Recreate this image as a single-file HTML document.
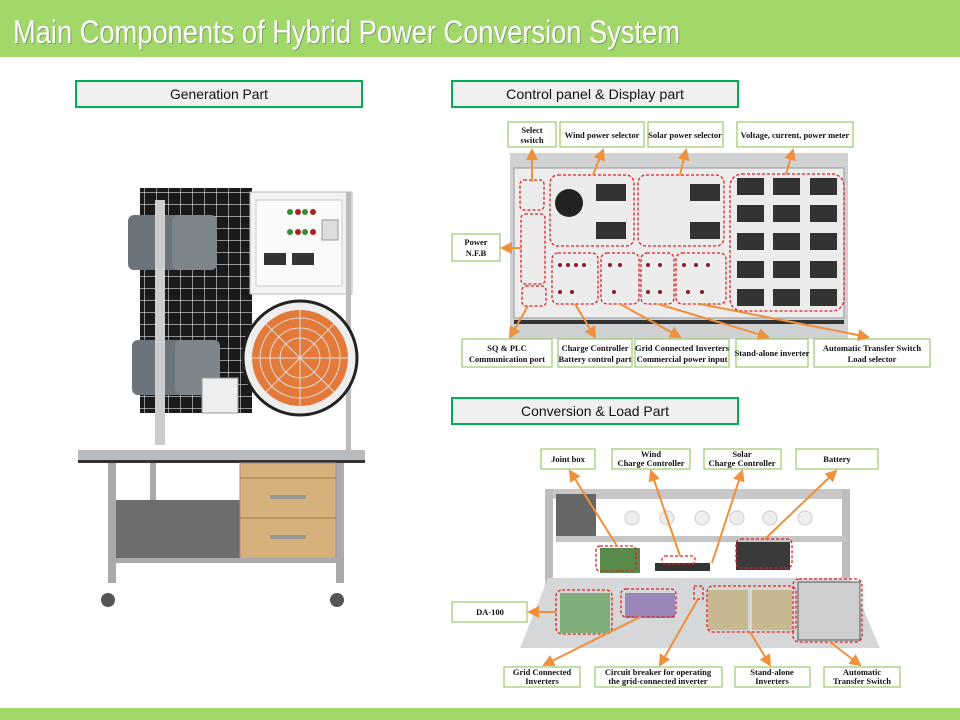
<!DOCTYPE html>
<html><head><meta charset="utf-8"><style>
html,body{margin:0;padding:0;background:#fff;}
svg{display:block;}
.l{font-family:"Liberation Serif",serif;font-weight:bold;font-size:8.5px;fill:#111;text-anchor:middle;}
.s{font-family:"Liberation Sans",sans-serif;font-size:14px;fill:#111;text-anchor:middle;}
.lb{fill:#fff;stroke:#9bc76a;stroke-width:1.2;}
.rd{fill:none;stroke:#e02020;stroke-width:1.3;stroke-dasharray:3,2;}
.ar{stroke:#f0903a;stroke-width:2;fill:none;marker-end:url(#ah);}
</style></head><body>
<svg width="960" height="720" viewBox="0 0 960 720">
<defs>
<marker id="ah" markerWidth="6" markerHeight="6" refX="5" refY="3" orient="auto"><path d="M0,0L6,3L0,6z" fill="#f0903a"/></marker>
<pattern id="grid" width="12" height="12" patternUnits="userSpaceOnUse"><rect width="12" height="12" fill="#1a1a1a"/><path d="M0,0H12M0,0V12" stroke="#ddd" stroke-width="1.2"/></pattern>
</defs>
<rect x="0" y="0" width="960" height="57" fill="#a2d86a"/>
<text x="14" y="44" font-family="Liberation Sans,sans-serif" font-size="32" fill="#556" opacity="0.45" textLength="667" lengthAdjust="spacingAndGlyphs">Main Components of Hybrid Power Conversion System</text>
<text x="13" y="43" font-family="Liberation Sans,sans-serif" font-size="32" fill="#fff" textLength="667" lengthAdjust="spacingAndGlyphs">Main Components of Hybrid Power Conversion System</text>
<rect x="0" y="708" width="960" height="12" fill="#a2d86a"/>

<rect x="76" y="81" width="286" height="26" fill="#f0f0f0" stroke="#00b050" stroke-width="2"/>
<text class="s" x="219" y="99" textLength="98" lengthAdjust="spacingAndGlyphs">Generation Part</text>
<rect x="452" y="81" width="286" height="26" fill="#f0f0f0" stroke="#00b050" stroke-width="2"/>
<text class="s" x="595" y="99" textLength="178" lengthAdjust="spacingAndGlyphs">Control panel &amp; Display part</text>
<rect x="452" y="398" width="286" height="26" fill="#f0f0f0" stroke="#00b050" stroke-width="2"/>
<text class="s" x="595" y="416" textLength="148" lengthAdjust="spacingAndGlyphs">Conversion &amp; Load Part</text>

<!-- Generation photo -->
<rect x="140" y="188" width="112" height="225" fill="url(#grid)"/>
<rect x="250" y="192" width="102" height="102" fill="#f2f2f2" stroke="#bbb"/>
<rect x="256" y="200" width="86" height="86" fill="#fafafa" stroke="#ccc"/>
<rect x="264" y="253" width="22" height="12" fill="#333"/><rect x="292" y="253" width="22" height="12" fill="#333"/>
<rect x="322" y="220" width="16" height="20" fill="#ddd" stroke="#999"/>
<g fill="#3a8a3a"><circle cx="290" cy="212" r="3"/><circle cx="305" cy="212" r="3"/><circle cx="290" cy="232" r="3"/><circle cx="305" cy="232" r="3"/></g>
<g fill="#b02020"><circle cx="298" cy="212" r="3"/><circle cx="313" cy="212" r="3"/><circle cx="298" cy="232" r="3"/><circle cx="313" cy="232" r="3"/></g>
<rect x="128" y="215" width="55" height="55" rx="6" fill="#6b747a"/><rect x="172" y="215" width="45" height="55" rx="6" fill="#7d868b"/>
<rect x="132" y="340" width="55" height="55" rx="6" fill="#6b747a"/><rect x="175" y="340" width="45" height="55" rx="6" fill="#7d868b"/>
<rect x="155" y="200" width="10" height="245" fill="#ccc"/>
<rect x="346" y="192" width="5" height="260" fill="#bbb"/>
<circle cx="300" cy="358" r="57" fill="#eee" stroke="#222" stroke-width="3"/>
<circle cx="300" cy="358" r="48" fill="#e47a3a"/>
<g stroke="#ddd" stroke-width="1"><circle cx="300" cy="358" r="40" fill="none"/><circle cx="300" cy="358" r="30" fill="none"/><circle cx="300" cy="358" r="20" fill="none"/><line x1="252" y1="358" x2="348" y2="358"/><line x1="300" y1="310" x2="300" y2="406"/><line x1="266" y1="324" x2="334" y2="392"/><line x1="334" y1="324" x2="266" y2="392"/></g>
<rect x="202" y="378" width="36" height="35" fill="#eee" stroke="#999"/>
<rect x="78" y="450" width="287" height="12" fill="#b8bcbf"/>
<rect x="78" y="460" width="287" height="3" fill="#333"/>
<rect x="108" y="463" width="8" height="120" fill="#aaa"/><rect x="336" y="463" width="8" height="120" fill="#aaa"/>
<rect x="150" y="463" width="6" height="95" fill="#aaa"/>
<rect x="116" y="500" width="124" height="58" fill="#6d6d6d"/>
<rect x="240" y="463" width="96" height="98" fill="#d6b07a" stroke="#a88"/>
<line x1="240" y1="478" x2="336" y2="478" stroke="#a07a4a"/><line x1="240" y1="518" x2="336" y2="518" stroke="#a07a4a"/>
<rect x="270" y="495" width="36" height="4" rx="2" fill="#999"/><rect x="270" y="535" width="36" height="4" rx="2" fill="#999"/>
<rect x="110" y="558" width="230" height="5" fill="#aaa"/>
<circle cx="108" cy="600" r="7" fill="#555"/><circle cx="337" cy="600" r="7" fill="#555"/>

<!-- Control panel photo -->
<rect x="510" y="153" width="338" height="186" fill="#cfd1d2"/>
<rect x="514" y="168" width="330" height="150" fill="#ececec" stroke="#999"/>
<rect x="514" y="320" width="330" height="4" fill="#333"/>
<circle cx="569" cy="203" r="14" fill="#222"/>
<g fill="#333">
<rect x="596" y="184" width="30" height="17"/><rect x="596" y="222" width="30" height="17"/>
<rect x="690" y="184" width="30" height="17"/><rect x="690" y="222" width="30" height="17"/>
<rect x="737" y="178" width="27" height="17"/><rect x="773" y="178" width="27" height="17"/><rect x="810" y="178" width="27" height="17"/>
<rect x="737" y="205" width="27" height="17"/><rect x="773" y="205" width="27" height="17"/><rect x="810" y="205" width="27" height="17"/>
<rect x="737" y="233" width="27" height="17"/><rect x="773" y="233" width="27" height="17"/><rect x="810" y="233" width="27" height="17"/>
<rect x="737" y="261" width="27" height="17"/><rect x="773" y="261" width="27" height="17"/><rect x="810" y="261" width="27" height="17"/>
<rect x="737" y="289" width="27" height="17"/><rect x="773" y="289" width="27" height="17"/><rect x="810" y="289" width="27" height="17"/>
</g>
<g fill="#8a1a2a"><circle cx="560" cy="265" r="2"/><circle cx="568" cy="265" r="2"/><circle cx="576" cy="265" r="2"/><circle cx="584" cy="265" r="2"/><circle cx="610" cy="265" r="2"/><circle cx="620" cy="265" r="2"/><circle cx="648" cy="265" r="2"/><circle cx="660" cy="265" r="2"/><circle cx="684" cy="265" r="2"/><circle cx="696" cy="265" r="2"/><circle cx="708" cy="265" r="2"/><circle cx="560" cy="292" r="2"/><circle cx="572" cy="292" r="2"/><circle cx="614" cy="292" r="2"/><circle cx="648" cy="292" r="2"/><circle cx="660" cy="292" r="2"/><circle cx="688" cy="292" r="2"/><circle cx="702" cy="292" r="2"/></g>
<rect class="rd" x="520" y="180" width="24" height="30" rx="4"/>
<rect class="rd" x="521" y="214" width="24" height="70" rx="4"/>
<rect class="rd" x="522" y="286" width="24" height="20" rx="4"/>
<rect class="rd" x="550" y="175" width="84" height="71" rx="8"/>
<rect class="rd" x="638" y="175" width="86" height="71" rx="8"/>
<rect class="rd" x="730" y="174" width="114" height="137" rx="12"/>
<rect class="rd" x="552" y="253" width="46" height="51" rx="6"/>
<rect class="rd" x="601" y="253" width="38" height="51" rx="6"/>
<rect class="rd" x="641" y="253" width="33" height="51" rx="6"/>
<rect class="rd" x="676" y="253" width="50" height="51" rx="6"/>
<g class="lb"><rect x="508" y="122" width="48" height="25"/><rect x="560" y="122" width="84" height="25"/><rect x="648" y="122" width="75" height="25"/><rect x="737" y="122" width="116" height="25"/><rect x="452" y="234" width="48" height="27"/>
<rect x="462" y="339" width="90" height="28"/><rect x="558" y="339" width="74" height="28"/><rect x="635" y="339" width="94" height="28"/><rect x="736" y="339" width="72" height="28"/><rect x="814" y="339" width="116" height="28"/></g>
<text class="l" x="532" y="133">Select</text><text class="l" x="532" y="143">switch</text>
<text class="l" x="602" y="138">Wind power selector</text>
<text class="l" x="685" y="138">Solar power selector</text>
<text class="l" x="795" y="138">Voltage, current, power meter</text>
<text class="l" x="476" y="245">Power</text><text class="l" x="476" y="256">N.F.B</text>
<text class="l" x="507" y="351">SQ &amp; PLC</text><text class="l" x="507" y="362">Communication port</text>
<text class="l" x="595" y="351">Charge Controller</text><text class="l" x="595" y="362">Battery control part</text>
<text class="l" x="682" y="351">Grid Connected Inverters</text><text class="l" x="682" y="362">Commercial power input</text>
<text class="l" x="772" y="356">Stand-alone inverter</text>
<text class="l" x="872" y="351">Automatic Transfer Switch</text><text class="l" x="872" y="362">Load selector</text>
<path class="ar" d="M532,182L532,150"/><path class="ar" d="M593,175L603,150"/><path class="ar" d="M680,175L686,150"/><path class="ar" d="M786,174L793,150"/>
<path class="ar" d="M521,248L502,248"/><path class="ar" d="M528,306L510,337"/><path class="ar" d="M575,304L595,337"/>
<path class="ar" d="M620,304L680,337"/><path class="ar" d="M658,304L768,337"/><path class="ar" d="M700,304L868,337"/>

<!-- Conversion photo -->
<rect x="545" y="489" width="305" height="10" fill="#c8c8c8"/>
<rect x="545" y="489" width="8" height="130" fill="#bdbdbd"/><rect x="842" y="489" width="8" height="130" fill="#bdbdbd"/>
<rect x="556" y="494" width="40" height="42" fill="#666"/>
<g fill="#eee" stroke="#ccc"><circle cx="632" cy="518" r="7"/><circle cx="667" cy="518" r="7"/><circle cx="702" cy="518" r="7"/><circle cx="737" cy="518" r="7"/><circle cx="770" cy="518" r="7"/><circle cx="805" cy="518" r="7"/></g>
<rect x="556" y="536" width="290" height="6" fill="#c5c5c5"/>
<rect x="736" y="542" width="54" height="28" fill="#3a3a3a"/>
<rect x="600" y="548" width="40" height="25" fill="#5a8a4a"/>
<rect x="655" y="563" width="55" height="8" fill="#333"/>
<polygon points="548,578 850,578 880,648 520,648" fill="#d6d7d8"/>
<rect x="560" y="593" width="50" height="40" fill="#7fae7a"/>
<rect x="625" y="593" width="50" height="25" fill="#9a86b8"/>
<rect x="708" y="590" width="40" height="40" fill="#c8b890"/><rect x="752" y="590" width="40" height="40" fill="#c8b890"/>
<rect x="798" y="582" width="62" height="58" fill="#cfcfcf" stroke="#555"/>
<rect class="rd" x="596" y="546" width="40" height="25" rx="4"/><rect class="rd" x="662" y="556" width="33" height="8" rx="3"/>
<rect class="rd" x="736" y="539" width="56" height="29" rx="5"/>
<rect class="rd" x="556" y="590" width="56" height="44" rx="6"/><rect class="rd" x="621" y="589" width="55" height="28" rx="5"/>
<rect class="rd" x="694" y="586" width="9" height="13"/><rect class="rd" x="707" y="586" width="89" height="46" rx="6"/>
<rect class="rd" x="793" y="579" width="69" height="63" rx="6"/>
<g class="lb"><rect x="541" y="449" width="54" height="20"/><rect x="612" y="449" width="78" height="20"/><rect x="704" y="449" width="77" height="20"/><rect x="796" y="449" width="82" height="20"/><rect x="452" y="602" width="75" height="20"/>
<rect x="504" y="667" width="76" height="20"/><rect x="595" y="667" width="127" height="20"/><rect x="735" y="667" width="75" height="20"/><rect x="824" y="667" width="76" height="20"/></g>
<text class="l" x="568" y="462">Joint box</text>
<text class="l" x="651" y="457">Wind</text><text class="l" x="651" y="466">Charge Controller</text>
<text class="l" x="742" y="457">Solar</text><text class="l" x="742" y="466">Charge Controller</text>
<text class="l" x="837" y="462">Battery</text>
<text class="l" x="490" y="615">DA-100</text>
<text class="l" x="542" y="675">Grid Connected</text><text class="l" x="542" y="684">Inverters</text>
<text class="l" x="658" y="675">Circuit breaker for operating</text><text class="l" x="658" y="684">the grid-connected inverter</text>
<text class="l" x="772" y="675">Stand-alone</text><text class="l" x="772" y="684">Inverters</text>
<text class="l" x="862" y="675">Automatic</text><text class="l" x="862" y="684">Transfer Switch</text>
<path class="ar" d="M617,546L570,471"/><path class="ar" d="M680,556L651,471"/><path class="ar" d="M712,563L742,471"/><path class="ar" d="M765,539L836,471"/>
<path class="ar" d="M556,612L529,612"/><path class="ar" d="M640,617L544,665"/><path class="ar" d="M698,599L660,665"/>
<path class="ar" d="M750,632L770,665"/><path class="ar" d="M830,642L860,665"/>
</svg>
</body></html>
